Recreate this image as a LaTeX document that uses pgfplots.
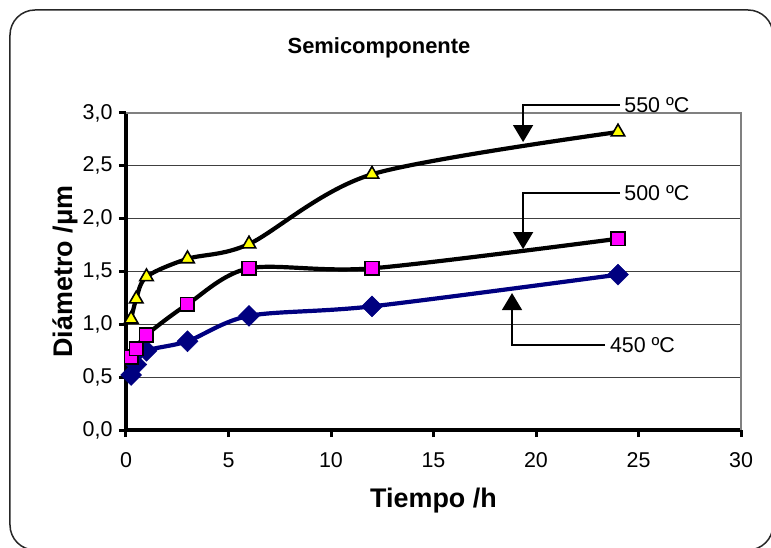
\documentclass[border=0pt]{standalone}
\usepackage{fontspec}
\setmainfont{Liberation Sans}
\usepackage{pgfplots}
\pgfplotsset{compat=1.18}
\usetikzlibrary{arrows.meta}
\definecolor{navyb}{RGB}{0,0,128}
\definecolor{magen}{RGB}{255,0,255}
\definecolor{yell}{RGB}{255,255,0}
\begin{document}
\begin{tikzpicture}
\begin{axis}[
  at={(0,0)}, anchor=south west,
  scale only axis, width=615bp, height=317bp,
  xmin=0, xmax=30, ymin=0, ymax=3,
  xtick={0,5,...,30}, ytick={0,0.5,...,3},
  axis x line=bottom, axis y line=left,
  axis line style={-, black, line width=3.5bp},
  tick align=outside, major tick length=7bp,
  tick style={black, line width=3bp},
  ymajorgrids, grid style={black!75, line width=0.8bp},
  /pgf/number format/assume math mode=true,
  yticklabel style={/pgf/number format/use comma, /pgf/number format/fixed, /pgf/number format/fixed zerofill, /pgf/number format/precision=1, xshift=-3bp},
  ticklabel style={font=\fontsize{21.5}{25}\selectfont},
  xticklabel style={yshift=-12bp},
  xlabel={\textbf{Tiempo /h}}, ylabel={\textbf{Diámetro /μm}},
  label style={font=\fontsize{27}{32}\selectfont},
  xlabel style={at={(axis description cs:0.5,0)}, anchor=center, yshift=-71bp},
  ylabel style={at={(axis description cs:0,0.5)}, anchor=center, xshift=0bp, yshift=61bp},
  clip=false,
]
\addplot[navyb, line width=4.2bp, smooth, mark=square*, mark size=7.4bp,
  mark options={rotate=45, fill=navyb, draw=navyb, line width=0.5bp}]
  coordinates {(0.25,0.52) (0.5,0.62) (1,0.75) (3,0.84) (6,1.08) (12,1.17) (24,1.47)};
\addplot[black, line width=4.2bp, smooth, mark=square*, mark size=6.8bp,
  mark options={fill=magen, draw=black, line width=1.6bp}]
  coordinates {(0.25,0.69) (0.5,0.77) (1,0.90) (3,1.19) (6,1.53) (12,1.53) (24,1.81)};
\addplot[black, line width=4.2bp, smooth, mark=triangle*, mark size=7.8bp,
  mark options={fill=yell, draw=black, line width=1.6bp}]
  coordinates {(0.25,1.05) (0.5,1.24) (1,1.45) (3,1.62) (6,1.76) (12,2.42) (24,2.82)};
% plot area border (top, right)
\draw[gray, line width=1.8bp] (rel axis cs:0,1) -- (rel axis cs:1,1) -- (rel axis cs:1,0);
% annotations
\draw[black, line width=1.4bp, -{Triangle[width=20bp,length=17bp]}]
  (axis cs:24.1,3.075) -- (axis cs:19.37,3.075) -- (axis cs:19.37,2.725);
\node[anchor=west, inner sep=0pt, font=\fontsize{21.5}{25}\selectfont] at (axis cs:24.3,3.075) {550 ºC};
\draw[black, line width=1.4bp, -{Triangle[width=20bp,length=17bp]}]
  (axis cs:24.1,2.242) -- (axis cs:19.37,2.242) -- (axis cs:19.37,1.712);
\node[anchor=west, inner sep=0pt, font=\fontsize{21.5}{25}\selectfont] at (axis cs:24.3,2.242) {500 ºC};
\draw[black, line width=1.4bp, -{Triangle[width=20bp,length=17bp]}]
  (axis cs:23.37,0.804) -- (axis cs:18.83,0.804) -- (axis cs:18.83,1.296);
\node[anchor=west, inner sep=0pt, font=\fontsize{21.5}{25}\selectfont] at (axis cs:23.6,0.804) {450 ºC};
\end{axis}
\node[font=\bfseries\fontsize{22}{26}\selectfont] at (253bp,382bp) {Semicomponente};
\draw[black!85, line width=1.5bp, rounded corners=25bp] (-116bp,420bp) rectangle (647bp,-120bp);
\pgfresetboundingbox
\useasboundingbox (-126bp,-118bp) rectangle (645bp,430bp);
\end{tikzpicture}
\end{document}
